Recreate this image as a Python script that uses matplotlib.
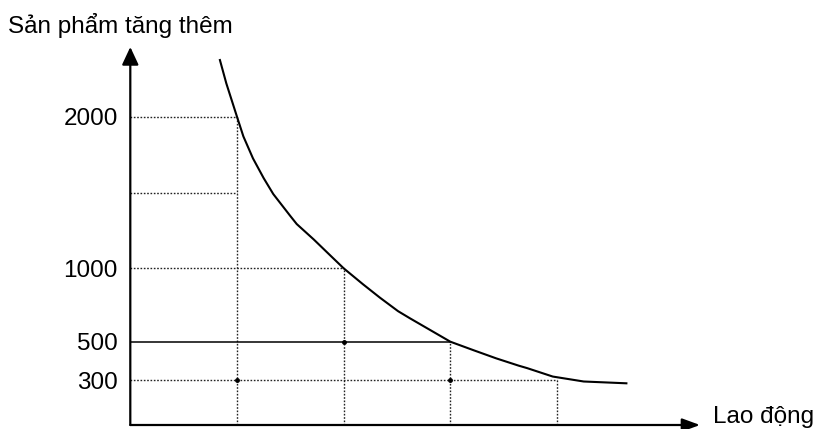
import matplotlib
matplotlib.use("Agg")
import matplotlib.pyplot as plt
import numpy as np

# Marked points: labour units and the extra output they give
labor = [1, 2, 3, 4]
extra_output = [2000, 1000, 500, 300]

# Marginal product curve
curve_labor = [0.84, 0.90, 0.95, 1.0, 1.06, 1.15, 1.25, 1.34, 1.50, 1.56,
               1.72, 1.87, 2.0, 2.18, 2.34, 2.51, 2.62, 2.81, 3.0, 3.22,
               3.43, 3.64, 3.72, 3.96, 4.25, 4.65]
curve_output = [2374, 2220, 2110, 2000, 1870, 1725, 1595, 1490, 1345, 1292,
                1190, 1088, 1000, 892, 800, 708, 660, 580, 500, 455,
                413, 375, 362, 318, 290, 278]

tick_values = [300, 500, 1000, 1500, 2000]
tick_labels = ["300", "500", "1000", "", "2000"]

# Hand drawn y axis is not quite linear: map values to the drawn heights
_knots_v = [0, 300, 500, 1000, 2000, 3000]
_knots_h = [0, 45, 83.3, 156.7, 308.3, 459.9]


def _fwd(v):
    return np.interp(v, _knots_v, _knots_h)


def _inv(h):
    return np.interp(h, _knots_h, _knots_v)


FONT = "Liberation Sans"


def plot_chart():
    fig = plt.figure(figsize=(8.2, 4.29), dpi=100)
    ax = fig.add_axes([130.3 / 820, 4 / 429, 569.7 / 820, 378 / 429])
    ax.set_yscale("function", functions=(_fwd, _inv))
    ax.set_xlim(0, 5.34)
    ax.set_ylim(0, 2460)
    for s in ax.spines.values():
        s.set_visible(False)

    # Axes with arrow heads
    ax.annotate("", xy=(0, 2460), xytext=(0, 0), annotation_clip=False,
                arrowprops=dict(arrowstyle="-|>,head_length=0.6,head_width=0.28",
                                color="black", lw=1.6, mutation_scale=18,
                                shrinkA=0, shrinkB=0))
    ax.annotate("", xy=(5.34, 0), xytext=(0, 0), annotation_clip=False,
                arrowprops=dict(arrowstyle="-|>,head_length=0.6,head_width=0.22",
                                color="black", lw=1.6, mutation_scale=18,
                                shrinkA=0, shrinkB=0))

    # Guide lines from the marked points
    dot = dict(color="#222222", lw=1.0, linestyle=(0, (1.2, 1.2)))
    for x, y in zip(labor, extra_output):
        ax.plot([x, x], [0, y], **dot)
        if y == 500:
            ax.plot([0, x], [y, y], color="black", lw=1.1)
        else:
            ax.plot([0, x], [y, y], **dot)
    ax.plot([0, labor[0]], [1500, 1500], **dot)

    # Marginal product curve
    ax.plot(curve_labor, curve_output, color="black", lw=1.5,
            solid_joinstyle="round")

    # small dots where guide lines cross
    ax.plot([labor[0], labor[2]], [300, 300], "o", color="black", ms=2.5)
    ax.plot([labor[1]], [500], "o", color="black", ms=2.5)

    ax.set_xticks([])
    ax.set_yticks(tick_values)
    ax.set_yticklabels(tick_labels, fontsize=17.5, family=FONT)
    ax.tick_params(axis="y", length=0, pad=9)

    fig.text(8 / 820, 396 / 429, "Sản phẩm tăng thêm", fontsize=17.5,
             family=FONT, va="baseline", ha="left")
    fig.text(713 / 820, 6 / 429, "Lao động", fontsize=17.5,
             family=FONT, va="baseline", ha="left")

    fig.savefig("out.png", dpi=100)


if __name__ == "__main__":
    plot_chart()
